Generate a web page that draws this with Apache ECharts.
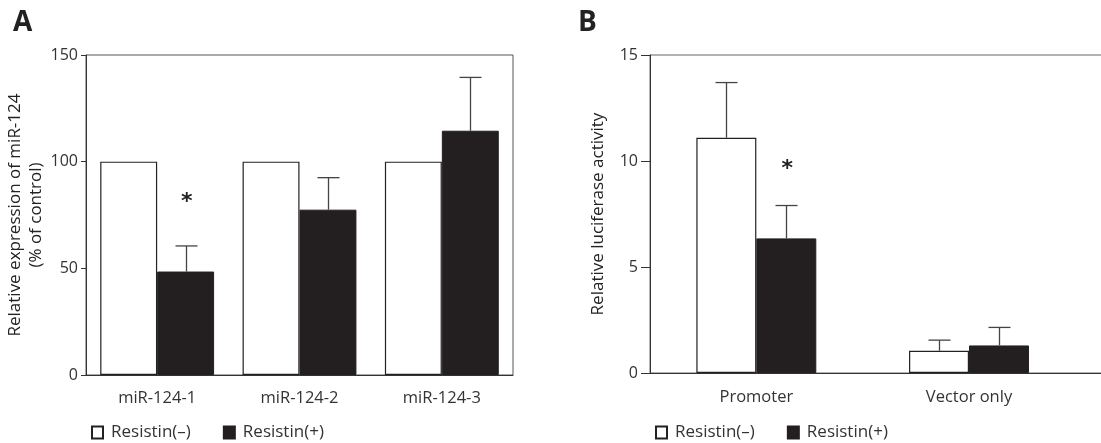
<!DOCTYPE html>
<html><head><meta charset="utf-8">
<script src="https://cdn.jsdelivr.net/npm/echarts@6/dist/echarts.min.js"></script>
<style>html,body{margin:0;padding:0;background:#fff}#c{width:1101px;height:443px}</style>
</head><body><div id="c"></div>
<script>
// ---- Data ----
const categoriesA = ['miR-124-1', 'miR-124-2', 'miR-124-3'];
const resistinNegA = [100, 100, 100];
const resistinPosA = [48.5, 77.5, 114.5];
const resistinPosErrA = [12, 15, 25];
const starsA = [['miR-124-1', 81]];          // asterisk over Resistin(+) bar

const categoriesB = ['Promoter', 'Vector only', ''];
const resistinNegB = [11.1, 1.05, null];
const resistinNegErrB = [2.6, 0.5, null];
const resistinPosB = [6.35, 1.3, null];
const resistinPosErrB = [1.55, 0.85, null];
const starsB = [['Promoter', 9.6]];

const ticksA = [0, 50, 100, 150];
const ticksB = [0, 5, 10, 15];
const legendNames = ['Resistin(–)', 'Resistin(+)'];

// ---- Styles ----
const FONT = 'Open Sans';
const TXT = '#333';
const BLACK = '#231f20';
const ERR = '#444';

function errSeries(xIdx, yIdx, cats, vals, errs, side, frac) {
  const data = [];
  vals.forEach((v, i) => { if (v != null && errs[i] != null) data.push([cats[i], v, errs[i]]); });
  return {
    type: 'custom', xAxisIndex: xIdx, yAxisIndex: yIdx, z: 5, silent: true,
    data: data,
    renderItem: function (params, api) {
      const cat = api.value(0), v = api.value(1), e = api.value(2);
      const band = api.size([1, 0])[0];
      const off = side * band * frac / 2;
      const p0 = api.coord([cat, v]);
      const p1 = api.coord([cat, v + e]);
      const x = Math.round(p0[0] + off) + 0.5;
      const cap = 11;
      return {
        type: 'group', children: [
          { type: 'line', shape: { x1: x, y1: p0[1], x2: x, y2: p1[1] }, style: { stroke: ERR, lineWidth: 1.3 } },
          { type: 'line', shape: { x1: x - cap, y1: p1[1], x2: x + cap, y2: p1[1] }, style: { stroke: ERR, lineWidth: 1.3 } }
        ]
      };
    }
  };
}

function starSeries(xIdx, yIdx, stars, frac) {
  return {
    type: 'custom', xAxisIndex: xIdx, yAxisIndex: yIdx, z: 6, silent: true,
    data: stars,
    renderItem: function (params, api) {
      const band = api.size([1, 0])[0];
      const p = api.coord([api.value(0), api.value(1)]);
      return {
        type: 'text', x: p[0] + band * frac / 2 + 1, y: p[1],
        style: { text: '*', fontSize: 22, fontWeight: 'bold', fontFamily: 'DejaVu Sans', fill: '#222', align: 'center', verticalAlign: 'middle' }
      };
    }
  };
}

function yAx(gridIndex, max, interval, name, tickLen, margin, gap) {
  return {
    type: 'value', gridIndex: gridIndex, min: 0, max: max, interval: interval,
    name: name, nameLocation: 'middle', nameGap: gap, nameRotate: 90,
    nameTextStyle: { fontFamily: FONT, fontSize: 17, fontWeight: 500, color: '#222', lineHeight: 21 },
    axisLine: { show: true, lineStyle: { color: '#333', width: 1 } },
    axisTick: { show: true, inside: false, length: tickLen, lineStyle: { color: '#333' } },
    axisLabel: { fontFamily: FONT, fontSize: 16, color: TXT, margin: margin },
    splitLine: { show: false }
  };
}

const fracA = 0.4, fracB = 0.282;

const option = {
  animation: false,
  backgroundColor: '#fff',
  title: [
    { text: 'A', left: 8, top: 4, textStyle: { fontFamily: FONT, fontSize: 28, fontWeight: 'bold', color: '#222' } },
    { text: 'B', left: 573, top: 4, textStyle: { fontFamily: FONT, fontSize: 28, fontWeight: 'bold', color: '#222' } }
  ],
  legend: [
    { left: 86, top: 419, itemWidth: 11, itemHeight: 12, itemGap: 32, icon: 'rect', data: legendNames,
      textStyle: { fontFamily: FONT, fontSize: 17, color: TXT, padding: [0, 0, 0, 3] }, selectedMode: false },
    { left: 650, top: 419, itemWidth: 11, itemHeight: 12, itemGap: 32, icon: 'rect', data: legendNames,
      textStyle: { fontFamily: FONT, fontSize: 17, color: TXT, padding: [0, 0, 0, 3] }, selectedMode: false }
  ],
  grid: [
    { left: 86, top: 55, width: 427, height: 320, outerBoundsMode: 'none', containLabel: false,
      show: true, borderColor: '#555', borderWidth: 1, backgroundColor: 'transparent' },
    { left: 650, top: 55, width: 638, height: 318, outerBoundsMode: 'none', containLabel: false,
      show: true, borderColor: '#666', borderWidth: 1, backgroundColor: 'transparent' }
  ],
  xAxis: [
    { type: 'category', gridIndex: 0, data: categoriesA,
      axisLine: { lineStyle: { color: '#333' } },
      axisTick: { length: 8, lineStyle: { color: '#333' } },
      axisLabel: { fontFamily: FONT, fontSize: 16.5, color: TXT, margin: 15, interval: 0 } },
    { type: 'category', gridIndex: 1, data: categoriesB,
      axisLine: { lineStyle: { color: '#333' } },
      axisTick: { length: 8, lineStyle: { color: '#333' }, interval: function (i) { return i < 2; } },
      axisLabel: { fontFamily: FONT, fontSize: 16.5, color: TXT, margin: 16, interval: 0 } }
  ],
  yAxis: [
    yAx(0, 150, 50, 'Relative expression of miR-124\n(% of control)', 5, 8, 35),
    yAx(1, 15, 5, 'Relative luciferase activity', 9, 12, 34)
  ],
  series: [
    { name: legendNames[0], type: 'bar', xAxisIndex: 0, yAxisIndex: 0, data: resistinNegA,
      barWidth: (fracA * 100) + '%', barGap: '0%',
      itemStyle: { color: '#fff', borderColor: '#222', borderWidth: 1.2 } },
    { name: legendNames[1], type: 'bar', xAxisIndex: 0, yAxisIndex: 0, data: resistinPosA,
      barWidth: (fracA * 100) + '%', barGap: '0%',
      itemStyle: { color: BLACK, borderColor: BLACK, borderWidth: 1 } },
    { name: legendNames[0], type: 'bar', xAxisIndex: 1, yAxisIndex: 1, data: resistinNegB,
      barWidth: (fracB * 100) + '%', barGap: '0%',
      itemStyle: { color: '#fff', borderColor: '#222', borderWidth: 1.2 } },
    { name: legendNames[1], type: 'bar', xAxisIndex: 1, yAxisIndex: 1, data: resistinPosB,
      barWidth: (fracB * 100) + '%', barGap: '0%',
      itemStyle: { color: BLACK, borderColor: BLACK, borderWidth: 1 } },
    errSeries(0, 0, categoriesA, resistinPosA, resistinPosErrA, 1, fracA),
    errSeries(1, 1, categoriesB, resistinNegB, resistinNegErrB, -1, fracB),
    errSeries(1, 1, categoriesB, resistinPosB, resistinPosErrB, 1, fracB),
    starSeries(0, 0, starsA, fracA),
    starSeries(1, 1, starsB, fracB)
  ]
};

const chart = echarts.init(document.getElementById('c'), null, { renderer: 'canvas' });
chart.setOption(option);
</script>
</body></html>
